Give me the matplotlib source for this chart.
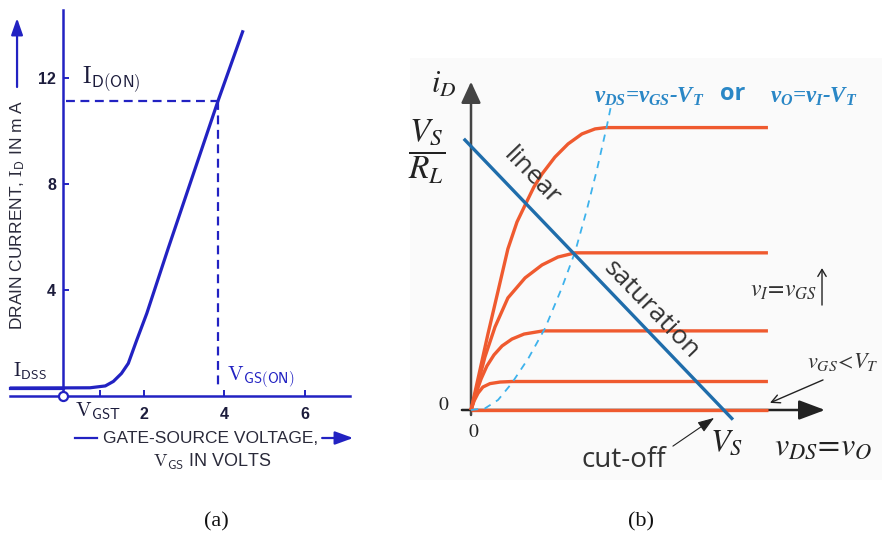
import numpy as np
import matplotlib
matplotlib.use("Agg")
import matplotlib.pyplot as plt

plt.rcParams['mathtext.fontset'] = 'stix'
# bold italic serif only for the blue equation at the top of (b)
plt.rcParams['mathtext.it'] = 'Liberation Serif:italic:bold'
plt.rcParams['mathtext.rm'] = 'Liberation Serif:bold'
plt.rcParams['mathtext.bf'] = 'Liberation Serif:bold'

# ---- (a) transfer characteristic ----
vgs = [-1.32, 0.67, 1.05, 1.25, 1.45, 1.62, 1.83, 2.08, 2.61, 3.85, 4.47]
id_ma = [0.30, 0.31, 0.38, 0.55, 0.85, 1.23, 2.11, 3.12, 5.57, 11.15, 13.8]
vgs_on = 3.85
id_on = 11.15
i_dss = 0.30
v_gst = 0.92
a_xticks = [2, 4, 6]
a_yticks = [4, 8, 12]

# ---- (b) output characteristic (v_DS in V, i_D in mA, V_S = 10) ----
v_end = 11.75
curve_v = [
    [0, 0.32, 0.67, 1.07, 1.46, 1.82, 2.18, 2.49, 2.81, 3.32, 3.84, 4.39, 4.91, 5.34],
    [0, 0.28, 0.55, 0.95, 1.46, 2.14, 2.81, 3.44, 4.12],
    [0, 0.20, 0.40, 0.63, 0.91, 1.23, 1.62, 2.10, 2.85],
    [0, 0.12, 0.28, 0.47, 0.75, 1.15, 1.62],
    [0],
]
curve_i = [
    [0, 1.37, 2.88, 4.51, 6.11, 7.13, 7.85, 8.46, 8.95, 9.59, 10.09, 10.47, 10.66, 10.71],
    [0, 1.02, 2.01, 3.15, 4.25, 5.01, 5.50, 5.80, 5.96],
    [0, 0.64, 1.18, 1.67, 2.09, 2.43, 2.69, 2.88, 3.00],
    [0, 0.34, 0.64, 0.87, 1.00, 1.06, 1.08],
    [0],
]
dash_v = [0, 0.55, 1.07, 1.61, 2.27, 2.93, 3.59, 4.12, 4.58, 4.98, 5.37, 5.54]
dash_i = [0, 0.06, 0.38, 1.01, 1.96, 3.10, 4.62, 6.00, 7.58, 9.10, 10.74, 11.53]
load_v = [-0.24, 10.32]
load_i = [10.24, -0.32]

blue_a = '#2222c2'
ink_a = '#1c1c3c'
red = '#ef5a2f'
load_blue = '#1f6dab'
cyan = '#3db2ec'
eq_blue = '#2a87c6'
gray = '#333333'

fig = plt.figure(figsize=(8.82, 5.39), dpi=100)

# ================= panel (a) =================
ax = fig.add_axes([0, 0, 400 / 882, 1])
ax.set_xlim(-1.563, 8.362)
ax.set_ylim(-5.396, 14.943)
for s in ['top', 'right']:
    ax.spines[s].set_visible(False)
ax.spines['left'].set_position(('data', 0))
ax.spines['left'].set_bounds(0, 14.57)
ax.spines['bottom'].set_position(('data', 0))
ax.spines['bottom'].set_bounds(-1.32, 7.12)
for s in ['left', 'bottom']:
    ax.spines[s].set_color(blue_a)
    ax.spines[s].set_linewidth(1.8)
ax.set_xticks(a_xticks)
ax.set_xticks([v_gst], minor=True)
ax.set_yticks(a_yticks)
ax.tick_params(which='both', direction='in', length=4, width=1.4, color=blue_a,
               labelcolor=ink_a)
ax.tick_params(axis='x', pad=8)
ax.tick_params(axis='y', pad=5)
for lab in ax.get_xticklabels() + ax.get_yticklabels():
    lab.set_fontfamily('Liberation Sans')
    lab.set_fontweight('bold')
    lab.set_fontsize(11.5)

# I_DSS floor line and the transfer curve
ax.plot(vgs, id_ma, color=blue_a, lw=2.3, solid_joinstyle='round', solid_capstyle='butt')
ax.plot([vgs[0], 0], [i_dss, i_dss], color=blue_a, lw=2.3)
# dashed guides to the ON point
ax.plot([0.07, vgs_on], [id_on, id_on], color=blue_a, lw=1.6, ls=(0, (4, 2.5)))
ax.plot([vgs_on, vgs_on], [id_on, i_dss], color=blue_a, lw=1.6, ls=(0, (4, 2.5)))
ax.plot([0], [0], 'o', ms=6.5, mfc='white', mec=blue_a, mew=1.6, clip_on=False, zorder=5)

ax.text(0.47, 11.81, r'$\mathrm{I}_{\mathsf{D(ON)}}$', fontsize=17, color=ink_a,
        math_fontfamily='cm', ha='left', va='baseline')
ax.text(-1.24, 0.73, r'$\mathrm{I}_{\mathsf{DSS}}$', fontsize=14, color=ink_a,
        math_fontfamily='cm', ha='left', va='baseline')
ax.text(0.30, -0.78, r'$\mathrm{V}_{\mathsf{GST}}$', fontsize=15, color=ink_a,
        math_fontfamily='cm', ha='left', va='baseline')
ax.text(4.07, 0.60, r'$\mathrm{V}_{\mathsf{GS(ON)}}$', fontsize=15, color=blue_a,
        math_fontfamily='cm', ha='left', va='baseline')

ax.text(-1.14, 6.83, r'DRAIN CURRENT, $\mathrm{I}_{\mathsf{D}}$ IN m A', rotation=90,
        fontsize=12.5, family='Liberation Sans', color='#2a2a3a', math_fontfamily='cm',
        ha='center', va='center')
ax.annotate('', xy=(-1.14, 14.26), xytext=(-1.14, 11.66),
            arrowprops=dict(arrowstyle='-|>,head_length=1.0,head_width=0.35', color=blue_a,
                            lw=1.6, shrinkA=0, shrinkB=0))

ax.text(3.65, -1.585, 'GATE-SOURCE VOLTAGE,', fontsize=12.5, family='Liberation Sans',
        color='#2a2a3a', ha='center', va='center')
ax.plot([0.30, 0.84], [-1.585, -1.585], color=blue_a, lw=1.6)
ax.annotate('', xy=(7.20, -1.585), xytext=(6.43, -1.585),
            arrowprops=dict(arrowstyle='-|>,head_length=1.1,head_width=0.4', color=blue_a,
                            lw=1.6, shrinkA=0, shrinkB=0))
ax.text(3.70, -2.68, r'$\mathrm{V}_{\mathsf{GS}}$ IN VOLTS', fontsize=13,
        family='Liberation Sans', color='#2a2a3a', math_fontfamily='cm',
        ha='center', va='baseline')
ax.text(3.80, -4.75, '(a)', fontsize=16, family='Liberation Serif', color='#111111',
        ha='center', va='center')

# ================= panel (b) =================
bx = fig.add_axes([410 / 882, 59 / 539, 472 / 882, 422 / 539])
bx.set_xlim(-2.414, 16.264)
bx.set_ylim(-2.655, 13.349)
bx.set_facecolor('#fafafa')
for s in bx.spines.values():
    s.set_visible(False)
bx.set_xticks([])
bx.set_yticks([])

# axes with arrow heads
bx.annotate('', xy=(14.01, 0), xytext=(-0.36, 0),
            arrowprops=dict(arrowstyle='-|>,head_length=1.6,head_width=0.6', color='#222222',
                            lw=1.8, shrinkA=0, shrinkB=0))
bx.annotate('', xy=(0, 12.45), xytext=(0, -0.19),
            arrowprops=dict(arrowstyle='-|>,head_length=1.3,head_width=0.6', color='#444444',
                            lw=1.8, shrinkA=0, shrinkB=0))

for cv, ci in zip(curve_v, curve_i):
    bx.plot(cv + [v_end], ci + [ci[-1]], color=red, lw=2.4, solid_joinstyle='round',
            solid_capstyle='butt', zorder=3)
bx.plot(dash_v, dash_i, color=cyan, lw=1.3, ls=(0, (4, 3.5)), zorder=4)
bx.plot(load_v, load_i, color=load_blue, lw=2.4, zorder=5)

bx.text(-1.07, 12.36, r'$i_D$', fontsize=22, color='#222222', ha='center', va='center')
bx.text(-1.76, 9.78, r'$\dfrac{V_S}{R_L}$', fontsize=24, color='#222222',
        ha='center', va='center')
bx.text(-1.07, 0.19, r'$0$', fontsize=14, color='#222222', ha='center', va='center')
bx.text(0.12, -0.83, r'$0$', fontsize=14, color='#222222', ha='center', va='center')
bx.text(10.09, -1.21, r'$V_S$', fontsize=23, color='#222222', ha='center', va='center')
bx.text(13.93, -1.37, r'$v_{DS}\!=\!v_O$', fontsize=23, color='#222222',
        ha='center', va='center')

bx.text(2.39, 8.84, 'linear', fontsize=19, family='Open Sans', color=gray,
        rotation=-46, rotation_mode='anchor', ha='center', va='center')
bx.text(7.12, 3.81, 'saturation', fontsize=19, family='Open Sans', color=gray,
        rotation=-46, rotation_mode='anchor', ha='center', va='center')
bx.text(6.05, -1.90, 'cut-off', fontsize=20, family='Open Sans', color=gray,
        ha='center', va='center')
bx.annotate('', xy=(9.62, -0.30), xytext=(7.99, -1.37),
            arrowprops=dict(arrowstyle='-|>,head_length=1.0,head_width=0.35', color='#222222',
                            lw=0.8, shrinkA=0, shrinkB=0))

bx.text(12.39, 4.55, r'$v_I\!=\!v_{GS}$', fontsize=17, color=gray, ha='center', va='center')
bx.annotate('', xy=(13.89, 5.38), xytext=(13.89, 3.98),
            arrowprops=dict(arrowstyle='->,head_length=0.5,head_width=0.3', color='#222222',
                            lw=1.0, shrinkA=0, shrinkB=0))
bx.text(14.72, 1.82, r'$v_{GS}\!<\!V_T$', fontsize=16, color=gray, ha='center', va='center')
bx.annotate('', xy=(11.83, 0.27), xytext=(13.93, 1.14),
            arrowprops=dict(arrowstyle='->,head_length=0.6,head_width=0.3', color='#222222',
                            lw=1.0, shrinkA=0, shrinkB=0))

bx.text(7.04, 11.89, r'$v_{DS}$=$v_{GS}$-$V_T$', fontsize=16.5, color=eq_blue,
        family='Liberation Serif', style='italic', weight='bold', math_fontfamily='custom',
        ha='center', va='center')
bx.text(10.36, 11.99, 'or', fontsize=17, color=eq_blue, family='Open Sans', weight='bold',
        ha='center', va='center')
bx.text(13.57, 11.89, r'$v_O$=$v_I$-$V_T$', fontsize=16.5, color=eq_blue,
        family='Liberation Serif', style='italic', weight='bold', math_fontfamily='custom',
        ha='center', va='center')

bx.text(6.73, -4.25, '(b)', fontsize=16, family='Liberation Serif', color='#111111',
        ha='center', va='center', clip_on=False)

fig.savefig('out.png', dpi=100, facecolor='white')
